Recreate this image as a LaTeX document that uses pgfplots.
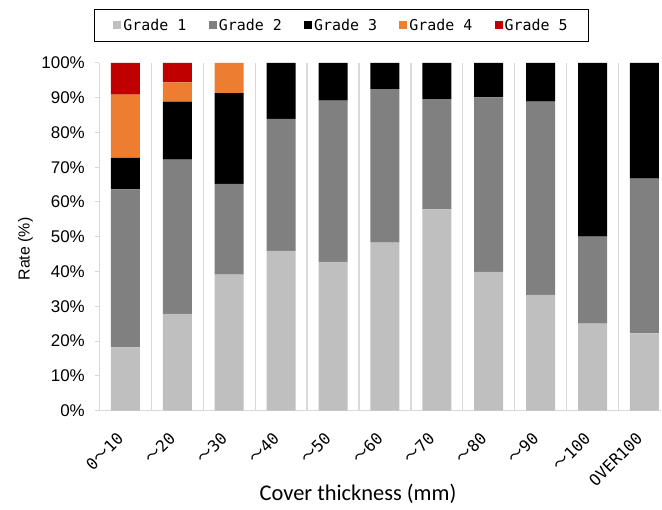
\documentclass[border=0pt]{standalone}
\usepackage{pgfplots}
\pgfplotsset{compat=1.18}
\usepackage{fontspec}
\setmainfont{Liberation Sans}
\newfontfamily\jp{Noto Sans CJK JP}
\newfontfamily\mono{DejaVu Sans Mono}
\newfontfamily\carl{Carlito}

\definecolor{gA}{HTML}{BFBFBF}
\definecolor{gB}{HTML}{808080}
\definecolor{gC}{HTML}{000000}
\definecolor{gD}{HTML}{ED7D31}
\definecolor{gE}{HTML}{C00000}
\definecolor{lgray}{HTML}{D9D9D9}

% cover thickness class (0..10) vs share of each grade, in %
\pgfplotstableread{
x  g1    g2    g3    g4    g5
0  18.2  45.4  9.1   18.2  9.1
1  27.8  44.4  16.7  5.5   5.6
2  39.1  26.1  26.1  8.7   0
3  45.9  38.0  16.1  0     0
4  42.8  46.4  10.8  0     0
5  48.3  44.2  7.5   0     0
6  57.9  31.7  10.4  0     0
7  39.9  50.2  9.9   0     0
8  33.3  55.6  11.1  0     0
9  25.0  25.0  50.0  0     0
10 22.2  44.5  33.3  0     0
}\grades

\begin{document}
\begin{tikzpicture}
\begin{axis}[
  name=ax,
  scale only axis,
  width=561.5bp, height=347.5bp,
  ybar stacked, bar width=29bp,
  xmin=-0.5, xmax=10.32,
  ymin=0, ymax=100,
  axis x line*=bottom, axis y line*=left,
  axis line style={draw=lgray, line width=1.3bp},
  xtick={0,...,10},
  xticklabels={0{\jp ～}10,{\jp ～}20,{\jp ～}30,{\jp ～}40,{\jp ～}50,{\jp ～}60,{\jp ～}70,{\jp ～}80,{\jp ～}90,{\jp ～}100,OVER100},
  xtick style={draw=none},
  minor xtick={0.5,1.5,...,9.5},
  minor x tick style={draw=none},
  xminorgrids=true,
  minor grid style={draw=lgray, line width=1.3bp},
  xticklabel style={xshift=-5bp, yshift=-20bp, rotate=45, anchor=east, inner sep=0pt, font=\fontsize{16}{16}\selectfont\mono},
  ytick={0,10,...,100},
  yticklabels={0\%,10\%,20\%,30\%,40\%,50\%,60\%,70\%,80\%,90\%,100\%},
  ytick style={draw=lgray, line width=1bp},
  tick align=outside,
  major tick length=5bp,
  yticklabel style={anchor=east, inner sep=0pt, xshift=-9.5bp, font=\fontsize{17}{17}\selectfont},
  xlabel={Cover thickness (mm)},
  xlabel style={at={(axis description cs:0.4604,-0.2403)}, anchor=center, font=\fontsize{22.5}{22.5}\selectfont\carl},
  legend columns=-1,
  legend image code/.code={\fill[#1] (0bp,-4bp) rectangle (8bp,4bp);},
  legend style={at={(axis description cs:-0.0098,1.1554)}, anchor=north west,
    draw=black, line width=1bp, inner xsep=19bp, inner ysep=7.5bp,
    font=\fontsize{15}{15}\selectfont\mono,
    nodes={inner xsep=2bp},
    /tikz/every even column/.append style={column sep=20.3bp}},
]
\addplot[fill=gA, draw=none] table[x=x, y=g1] {\grades};
\addplot[fill=gB, draw=none] table[x=x, y=g2] {\grades};
\addplot[fill=gC, draw=none] table[x=x, y=g3] {\grades};
\addplot[fill=gD, draw=none] table[x=x, y=g4] {\grades};
\addplot[fill=gE, draw=none] table[x=x, y=g5] {\grades};
\legend{Grade 1,Grade 2,Grade 3,Grade 4,Grade 5}
\end{axis}
% y axis title
\node[rotate=90, anchor=center, font=\fontsize{16}{16}\selectfont] at ([shift={(-74bp,161.5bp)}]ax.south west) {Rate (\%)};
\pgfresetboundingbox
\useasboundingbox ([shift={(-99.5bp,-99.5bp)}]ax.south west) rectangle ([shift={(562.5bp,410.5bp)}]ax.south west);
\end{tikzpicture}
\end{document}
